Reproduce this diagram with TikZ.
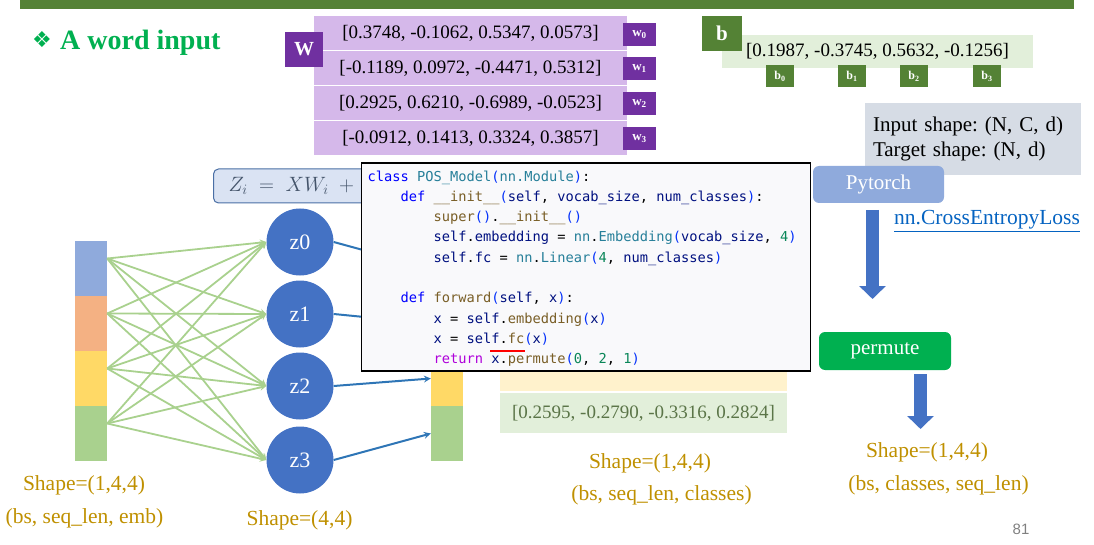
\documentclass[tikz,border=0pt]{standalone}
\usepackage{fontspec}
\setmainfont{Liberation Serif}
\setsansfont{Liberation Sans}
\setmonofont{DejaVu Sans Mono}
\newfontfamily\dingFont{DejaVu Sans}
\usetikzlibrary{arrows.meta}
\frenchspacing

\definecolor{slideGreen}{HTML}{548235}
\definecolor{titleGreen}{HTML}{00B050}
\definecolor{wPurple}{HTML}{7030A0}
\definecolor{rowPurple}{HTML}{D5B8EA}
\definecolor{rowGreen}{HTML}{E2EFDA}
\definecolor{rowYellow}{HTML}{FFF2CC}
\definecolor{boxGray}{HTML}{D6DCE5}
\definecolor{torchBlue}{HTML}{8FAADC}
\definecolor{linkBlue}{HTML}{0563C1}
\definecolor{arrowBlue}{HTML}{4472C4}
\definecolor{lineBlue}{HTML}{2E75B6}
\definecolor{segBlue}{HTML}{8FAADC}
\definecolor{segOrange}{HTML}{F4B183}
\definecolor{segYellow}{HTML}{FFD966}
\definecolor{segGreen}{HTML}{A9D18E}
\definecolor{shapeGold}{HTML}{BF9000}
\definecolor{mathFill}{HTML}{DAE3F3}
\definecolor{mathLine}{HTML}{4A6FA5}
\definecolor{mathText}{HTML}{44546A}
\definecolor{codeBack}{HTML}{F9F9FB}
\definecolor{outText}{HTML}{5B7548}
\definecolor{kwBlue}{HTML}{0000FF}
\definecolor{clTeal}{HTML}{267F99}
\definecolor{fnBrown}{HTML}{795E26}
\definecolor{varNavy}{HTML}{001080}
\definecolor{brBlue}{HTML}{0431FA}
\definecolor{numGreen}{HTML}{098658}
\definecolor{retPurple}{HTML}{AF00DB}

%% code colouring
\newcommand{\codeKw}[1]{\textcolor{kwBlue}{#1}}
\newcommand{\codeCl}[1]{\textcolor{clTeal}{#1}}
\newcommand{\codeFn}[1]{\textcolor{fnBrown}{#1}}
\newcommand{\codeVar}[1]{\textcolor{varNavy}{#1}}
\newcommand{\codeBr}[1]{\textcolor{brBlue}{#1}}
\newcommand{\codeNum}[1]{\textcolor{numGreen}{#1}}
\newcommand{\codeRet}[1]{\textcolor{retPurple}{#1}}

\begin{document}
\begin{tikzpicture}
[x=1pt,y=-1pt,
  wLabel/.style={fill=wPurple,text=white,inner sep=0pt,font=\fontsize{20}{22}\selectfont\bfseries},%
  wSmall/.style={fill=wPurple,text=white,inner sep=0pt,minimum width=33,minimum height=23,font=\fontsize{13}{14}\selectfont\bfseries},%
  bSmall/.style={fill=slideGreen,text=white,inner sep=0pt,minimum width=28,minimum height=22,font=\fontsize{12}{13}\selectfont\bfseries},%
  wRow/.style={fill=rowPurple,inner sep=0pt,minimum width=313,minimum height=34,font=\fontsize{19}{21}\selectfont},%
  outRow/.style={inner sep=0pt,minimum width=287,minimum height=40,font=\fontsize{19}{21}\selectfont,text=outText},%
  barSeg/.style={inner sep=0pt,minimum width=32,minimum height=55},%
  zCircle/.style={shape=circle,fill=arrowBlue,text=white,inner sep=0pt,minimum size=67,font=\fontsize{22}{24}\selectfont},%
  greenArrow/.style={->,>=stealth,line width=1.8pt,color=segGreen},%
  blueArrow/.style={->,>=stealth,line width=2pt,color=lineBlue},%
  blockArrow/.style={-{Triangle[length=13pt,width=26pt]},line width=13.5pt,color=arrowBlue},%
  roundBox/.style={rounded corners=6pt,text=white,inner sep=0pt,font=\fontsize{21}{23}\selectfont},%
  shapeText/.style={anchor=base,text=shapeGold,inner sep=0pt,font=\fontsize{21.5}{23}\selectfont}]
\useasboundingbox (0,0) rectangle (1094,545);

%% slide header
\fill[slideGreen] (20,0) rectangle (1074,9);
\node[text=titleGreen,inner sep=0pt,font=\fontsize{22}{24}\dingFont] (diamond) at (42,40) {❖};
\node[anchor=base west,text=titleGreen,inner sep=0pt,font=\fontsize{28}{30}\selectfont\bfseries] (title) at (60,50) {A word input};

%% weight matrix W
\foreach \i/\y/\vals in {0/33/{[0.3748, -0.1062, 0.5347, 0.0573]},
  1/68/{[-0.1189, 0.0972, -0.4471, 0.5312]},
  2/103/{[0.2925, 0.6210, -0.6989, -0.0523]},
  3/138/{[-0.0912, 0.1413, 0.3324, 0.3857]}}
{
  \node[wRow] (row\i) at (470.5,\y) {\vals};
}
\node[wLabel,minimum width=38,minimum height=35] (W) at (304,49.5) {W};
\foreach \i/\y in {0/34.5, 1/68.5, 2/103.5, 3/138.5}
{
  \node[wSmall] (w\i) at (639.5,\y) {w\textsubscript{\i}};
}

%% bias vector b
\node[fill=rowGreen,inner sep=0pt,minimum width=311,minimum height=33,font=\fontsize{19}{21}\selectfont] (bvec) at (877.5,51.5) {[0.1987, -0.3745, 0.5632, -0.1256]};
\node[fill=slideGreen,text=white,inner sep=0pt,minimum width=40,minimum height=35,font=\fontsize{21}{23}\selectfont\bfseries] (b) at (722,33.5) {b};
\foreach \i/\x in {0/780, 1/852, 2/914, 3/987}
{
  \node[bSmall] (b\i) at (\x,76) {b\textsubscript{\i}};
}

%% loss side
\node[fill=boxGray,inner sep=8pt,minimum height=72,text width=200,align=left,font=\fontsize{21}{25}\selectfont] (inshape) at (973,139) {Input shape: (N, C, d)\\Target shape: (N, d)};
\node[roundBox,fill=torchBlue,minimum width=131,minimum height=37] (torch) at (878.5,184.5) {Pytorch};
\node[anchor=base west,inner sep=0pt,text=linkBlue,font=\fontsize{21.5}{23}\selectfont] (loss) at (894,225) {\underline{nn.CrossEntropyLoss}};
\node[roundBox,fill=titleGreen,minimum width=132,minimum height=38] (permute) at (885,351) {permute};
\coordinate (arrOneTop) at (872.5,210);
\coordinate (arrOneEnd) at (872.5,299);
\coordinate (arrTwoEnd) at (920.5,429);
\draw[blockArrow] (arrOneTop) -- (arrOneEnd);
\draw[blockArrow] (permute.south -| arrTwoEnd) ++(0,4) -- (arrTwoEnd);

%% input word embedding
\foreach \i/\col/\y in {0/segBlue/268.5, 1/segOrange/323.5, 2/segYellow/378.5, 3/segGreen/433.5}
{
  \node[barSeg,fill=\col] (inSeg\i) at (91,\y) {};
  \coordinate (src\i) at ([yshift=10pt]inSeg\i.east);
  \node[barSeg,fill=\col] (outSeg\i) at (447,\y) {};
}
\foreach \i/\y in {0/242, 1/314, 2/386, 3/460}
{
  \node[zCircle] (z\i) at (300,\y) {z\i};
}
\foreach \s in {0,...,3}
{
  \foreach \t in {0,...,3}
  {
    \draw[greenArrow] (src\s) -- (z\t.west);
  }
}
\foreach \i in {0,...,3}
{
  \draw[blueArrow] (z\i.east) -- (outSeg\i.west);
}

%% output rows
\node[outRow,fill=rowYellow] (outRow2) at (643.5,371) {};
\node[outRow,fill=rowGreen] (outRow3) at (643.5,413) {[0.2595, -0.2790, -0.3316, 0.2824]};

%% formula
\node[anchor=west,draw=mathLine,line width=1pt,fill=mathFill,rounded corners=5pt,inner xsep=15pt,inner ysep=0pt,minimum height=34,text=mathText,font=\fontsize{21}{23}\selectfont] (formula) at (213,186) {$Z_i \;=\; XW_i \;+\; b_i$};

%% code window
\node[draw=black,line width=1.2pt,fill=codeBack,inner sep=0pt,minimum width=449,minimum height=208] (code) at (586,267) {};
\node[anchor=north west,inner sep=0pt,align=left,font=\fontsize{13.7}{20.3}\ttfamily] (codeText) at ([xshift=6.5pt,yshift=-8pt]code.north west) {%
\codeKw{class} \codeCl{POS\_Model}\codeBr{(}\codeCl{nn.Module}\codeBr{)}:\\
\phantom{0000}\codeKw{def} \codeFn{\_\_init\_\_}\codeBr{(}\codeVar{self}, \codeVar{vocab\_size}, \codeVar{num\_classes}\codeBr{)}:\\
\phantom{00000000}\codeFn{super}\codeBr{()}.\codeFn{\_\_init\_\_}\codeBr{()}\\
\phantom{00000000}\codeVar{self}.\codeVar{embedding} = \codeCl{nn}.\codeCl{Embedding}\codeBr{(}\codeVar{vocab\_size}, \codeNum{4}\codeBr{)}\\
\phantom{00000000}\codeVar{self}.\codeVar{fc} = \codeCl{nn}.\codeCl{Linear}\codeBr{(}\codeNum{4}, \codeVar{num\_classes}\codeBr{)}\\[20.3pt]
\phantom{0000}\codeKw{def} \codeFn{forward}\codeBr{(}\codeVar{self}, \codeVar{x}\codeBr{)}:\\
\phantom{00000000}\codeVar{x} = \codeVar{self}.\codeFn{embedding}\codeBr{(}\codeVar{x}\codeBr{)}\\
\phantom{00000000}\codeVar{x} = \codeVar{self}.\codeFn{fc}\codeBr{(}\codeVar{x}\codeBr{)}\\
\phantom{00000000}\codeRet{return} \codeVar{x}.\codeFn{permute}\codeBr{(}\codeNum{0}, \codeNum{2}, \codeNum{1}\codeBr{)}};
\draw[red,line width=1.5pt] (490,351) -- (525,351);

%% shape labels
\node[shapeText] (shapeIn) at (84,490) {Shape=(1,4,4)};
\node[shapeText] (dimIn) at (84.5,523) {(bs, seq\_len, emb)};
\node[shapeText] (shapeZ) at (299.5,525) {Shape=(4,4)};
\node[shapeText] (shapeOut) at (650,468) {Shape=(1,4,4)};
\node[shapeText] (dimOut) at (661.5,500) {(bs, seq\_len, classes)};
\node[shapeText] (shapePerm) at (927,457) {Shape=(1,4,4)};
\node[shapeText] (dimPerm) at (938.5,490) {(bs, classes, seq\_len)};

%% page number
\node[text=gray,inner sep=0pt,font=\fontsize{15}{16}\sffamily] (pageNo) at (1021,529) {81};
\end{tikzpicture}
\end{document}
